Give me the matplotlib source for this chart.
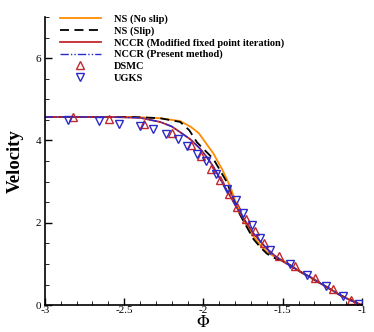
import numpy as np
import matplotlib.pyplot as plt
from matplotlib.ticker import MultipleLocator

plt.rcParams['font.family'] = ['Liberation Serif', 'DejaVu Serif']
plt.rcParams['mathtext.fontset'] = 'stix'

# NS (No slip)
ns_x = [-3.0, -2.6, -2.45, -2.274, -2.147, -2.08, -2.03, -1.937, -1.88, -1.83, -1.77, -1.72, -1.684, -1.64, -1.6, -1.55, -1.495, -1.389, -1.263, -1.137, -1.0]
ns_y = [4.57, 4.57, 4.57, 4.54, 4.47, 4.33, 4.18, 3.68, 3.28, 2.87, 2.22, 1.88, 1.66, 1.45, 1.29, 1.17, 1.08, 0.81, 0.53, 0.24, 0.0]

# NS (Slip)
nss_x = [-3.0, -2.6, -2.45, -2.274, -2.147, -2.09, -2.04, -1.937, -1.853, -1.80, -1.77, -1.72, -1.684, -1.64, -1.6, -1.55, -1.495, -1.389, -1.263, -1.137, -1.0]
nss_y = [4.57, 4.57, 4.57, 4.54, 4.45, 4.25, 3.95, 3.55, 2.99, 2.45, 2.2, 1.85, 1.6, 1.4, 1.25, 1.14, 1.07, 0.81, 0.53, 0.24, 0.0]

# NCCR (both methods give the same curve)
nccr_x = [-3.0, -2.6, -2.4, -2.274, -2.2, -2.147, -2.08, -2.021, -1.98, -1.937, -1.9, -1.853, -1.81, -1.768, -1.72, -1.684, -1.64, -1.6, -1.55, -1.495, -1.44, -1.389, -1.32, -1.263, -1.2, -1.137, -1.07, -1.0]
nccr_y = [4.57, 4.57, 4.55, 4.45, 4.34, 4.2, 4.02, 3.8, 3.6, 3.36, 3.1, 2.79, 2.5, 2.22, 1.95, 1.74, 1.54, 1.37, 1.2, 1.05, 0.93, 0.81, 0.67, 0.53, 0.39, 0.24, 0.11, 0.0]

# DSMC
dsmc_x = [-2.825, -2.594, -2.375, -2.198, -2.08, -2.013, -1.952, -1.895, -1.842, -1.787, -1.733, -1.675, -1.616, -1.524, -1.421, -1.295, -1.183, -1.069]
dsmc_y = [4.57, 4.51, 4.39, 4.19, 3.9, 3.61, 3.31, 3.03, 2.71, 2.39, 2.10, 1.80, 1.51, 1.19, 0.95, 0.66, 0.38, 0.12]

# UGKS
ugks_x = [-2.857, -2.657, -2.531, -2.40, -2.32, -2.234, -2.162, -2.103, -2.04, -1.983, -1.92, -1.851, -1.794, -1.749, -1.696, -1.643, -1.58, -1.454, -1.345, -1.23, -1.118, -1.02]
ugks_y = [4.49, 4.46, 4.41, 4.34, 4.28, 4.15, 4.03, 3.87, 3.68, 3.49, 3.19, 2.83, 2.55, 2.23, 1.94, 1.62, 1.34, 1.01, 0.74, 0.47, 0.22, 0.02]

xticks = [-3, -2.5, -2, -1.5, -1]
xticklabels = ['-3', '-2.5', '-2', '-1.5', '-1']
yticks = [0, 2, 4, 6]
yticklabels = ['0', '2', '4', '6']

fig = plt.figure(figsize=(3.74, 3.32), dpi=100)
ax = fig.add_axes([0.120, 0.081, 0.848, 0.868])

ax.plot(ns_x, ns_y, color='#ff8c00', lw=1.3, label='NS (No slip)')
ax.plot(nss_x, nss_y, color='black', lw=1.3, ls=(0, (5, 3)), label='NS (Slip)')
ax.plot(nccr_x, nccr_y, color='#c0282d', lw=1.3, label='NCCR (Modified fixed point iteration)')
ax.plot(nccr_x, nccr_y, color='#2a2ac8', lw=1.0, ls=(0, (6, 1.5, 1, 1.5, 1, 1.5)), label='NCCR (Present method)')
ax.plot(dsmc_x, dsmc_y, ls='none', marker='^', ms=5.5, mfc='none', mec='#c0282d', mew=1.0, label='DSMC')
ax.plot(ugks_x, ugks_y, ls='none', marker='v', ms=5.5, mfc='none', mec='#2a2ac8', mew=1.0, label='UGKS')

ax.set_xlim(-3, -1)
ax.set_ylim(0, 7)
ax.set_xticks(xticks)
ax.set_xticklabels(xticklabels)
ax.set_yticks(yticks)
ax.set_yticklabels(yticklabels)
ax.xaxis.set_minor_locator(MultipleLocator(0.1))
ax.yaxis.set_minor_locator(MultipleLocator(0.5))
ax.tick_params(which='major', direction='in', length=5, width=1, labelsize=8)
ax.tick_params(axis='x', which='major', pad=1)
ax.tick_params(axis='y', which='major', pad=2.5)
ax.tick_params(which='minor', direction='in', length=3, width=0.6)
for s in ['top', 'right']:
    ax.spines[s].set_visible(False)
for s in ['left', 'bottom']:
    ax.spines[s].set_linewidth(1.2)

ax.set_xlabel(r'$\Phi$', fontsize=12, labelpad=0)
ax.set_ylabel('Velocity', fontsize=13.5, fontweight='bold', labelpad=9)

ax.legend(loc='upper left', bbox_to_anchor=(0.025, 1.035), frameon=False,
          prop={'weight': 'bold', 'size': 7.5}, handlelength=3.9,
          handletextpad=1.25, labelspacing=0.22, borderpad=0.2)

fig.savefig('out.png', dpi=100)
